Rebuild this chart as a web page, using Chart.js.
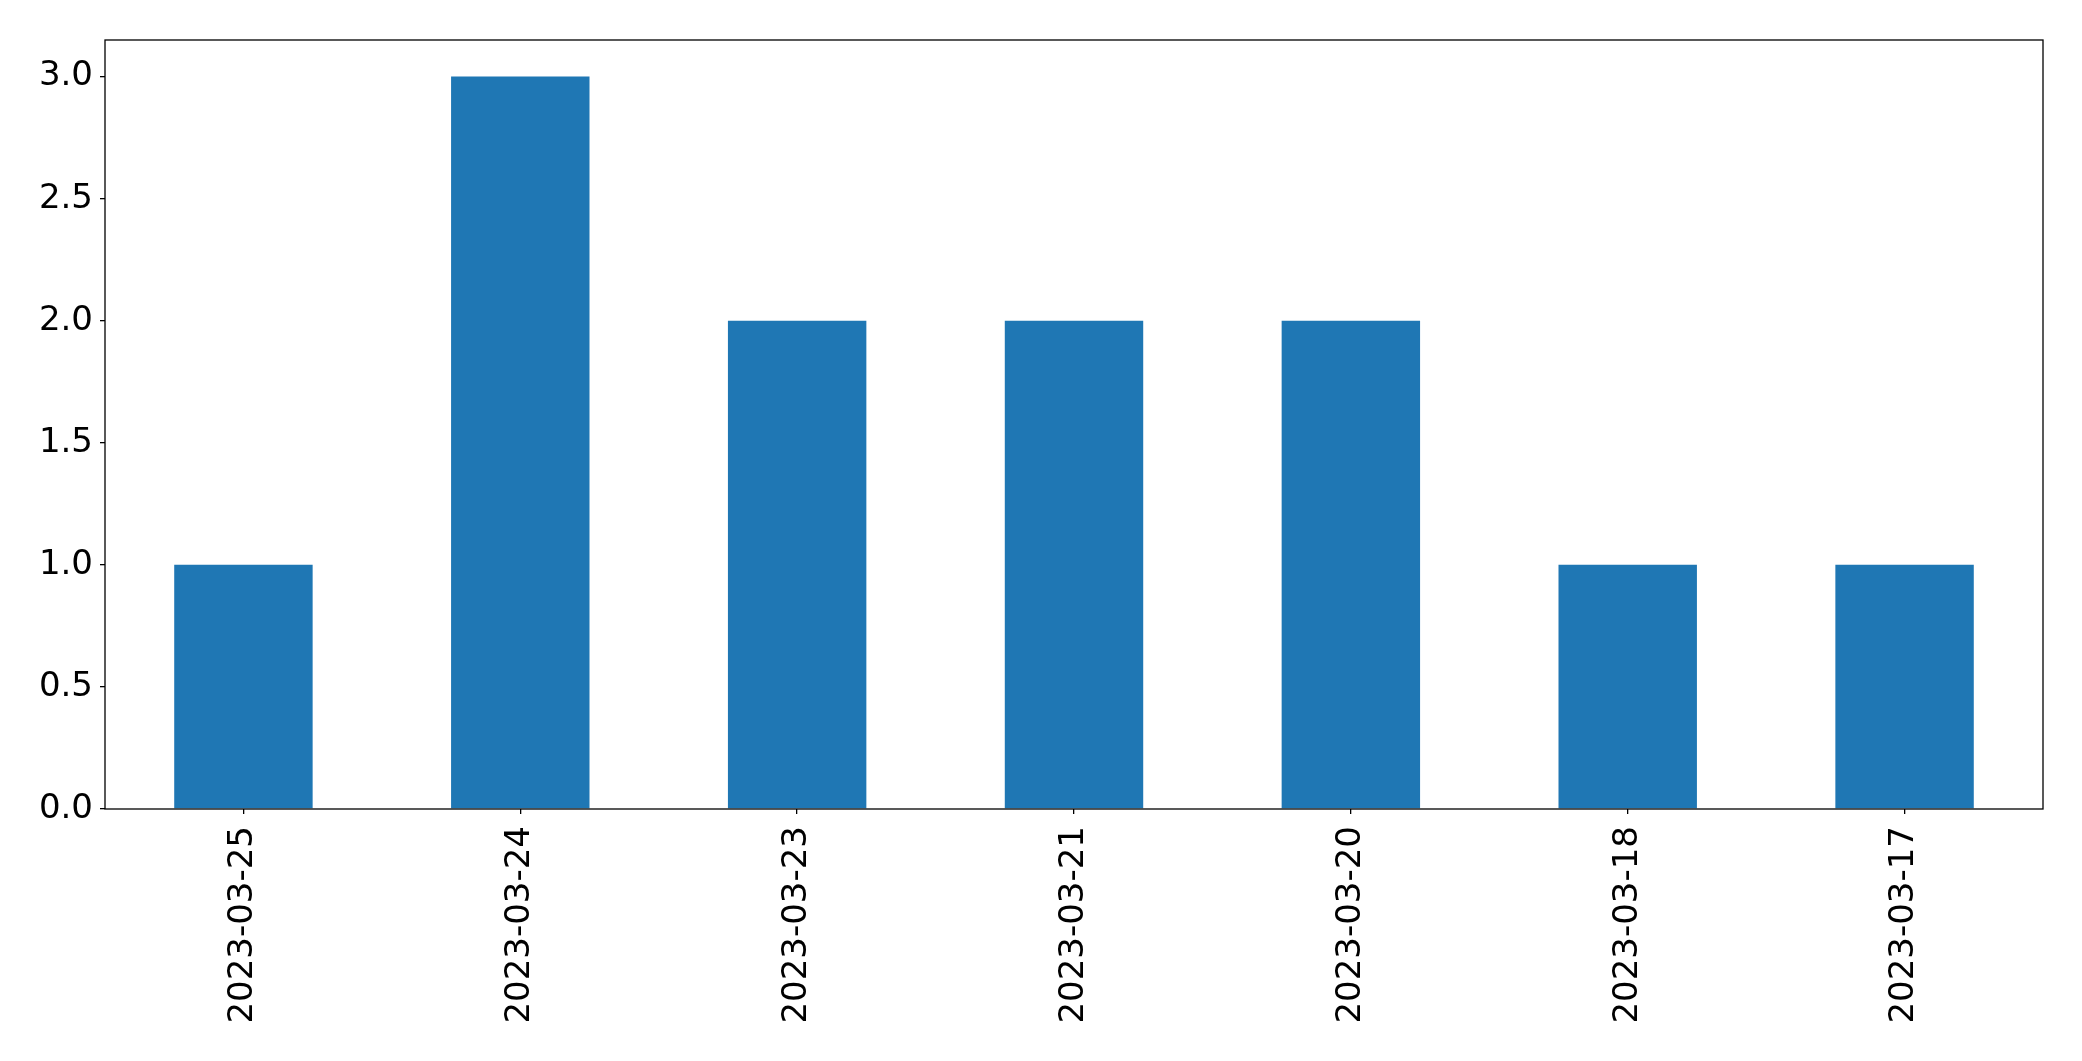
<!DOCTYPE html>
<html>
<head>
<meta charset="utf-8">
<script src="https://cdn.jsdelivr.net/npm/chart.js@4/dist/chart.umd.min.js"></script>
<style>
    html, body { margin: 0; padding: 0; background: #fff; }
    #wrap { width: 2082px; height: 1061px; position: relative; }
</style>
</head>
<body>
<div id="wrap"><canvas id="chart"></canvas></div>
<script>
const dates = ['2023-03-25', '2023-03-24', '2023-03-23', '2023-03-21', '2023-03-20', '2023-03-18', '2023-03-17'];
const counts = [1, 3, 2, 2, 2, 1, 1];
const yTicks = [0, 0.5, 1.0, 1.5, 2.0, 2.5, 3.0];

// box around the plot area, like matplotlib spines
const frame = {
    id: 'frame',
    afterDraw(chart) {
        const { ctx, chartArea: a } = chart;
        ctx.save();
        ctx.strokeStyle = '#000';
        ctx.lineWidth = 1.3;
        ctx.strokeRect(a.left, a.top, a.right - a.left, a.bottom - a.top);
        ctx.restore();
    }
};

const font = { family: 'DejaVu Sans', size: 34 };

new Chart(document.getElementById('chart'), {
    type: 'bar',
    data: {
        labels: dates,
        datasets: [{
            data: counts,
            backgroundColor: '#1f77b4',
            borderWidth: 0,
            categoryPercentage: 1.0,
            barPercentage: 0.5
        }]
    },
    options: {
        responsive: true,
        maintainAspectRatio: false,
        animation: false,
        layout: { padding: { top: 40, right: 39, left: 0, bottom: 0 } },
        plugins: {
            legend: { display: false },
            tooltip: { enabled: false }
        },
        scales: {
            x: {
                grid: { drawOnChartArea: false, offset: false, tickLength: 5, color: '#000', lineWidth: 1.3 },
                border: { display: false },
                ticks: { color: '#000', font: font, minRotation: 90, maxRotation: 90, padding: 12, autoSkip: false },
                afterFit: s => { s.height = 252; }
            },
            y: {
                min: 0,
                max: 3.15,
                grid: { drawOnChartArea: false, tickLength: 5, color: '#000', lineWidth: 1.3 },
                border: { display: false },
                afterBuildTicks: s => { s.ticks = yTicks.map(v => ({ value: v })); },
                ticks: { color: '#000', font: font, padding: 7, callback: v => v.toFixed(1) },
                afterFit: s => { s.width = 105; }
            }
        }
    },
    plugins: [frame]
});
</script>
</body>
</html>
